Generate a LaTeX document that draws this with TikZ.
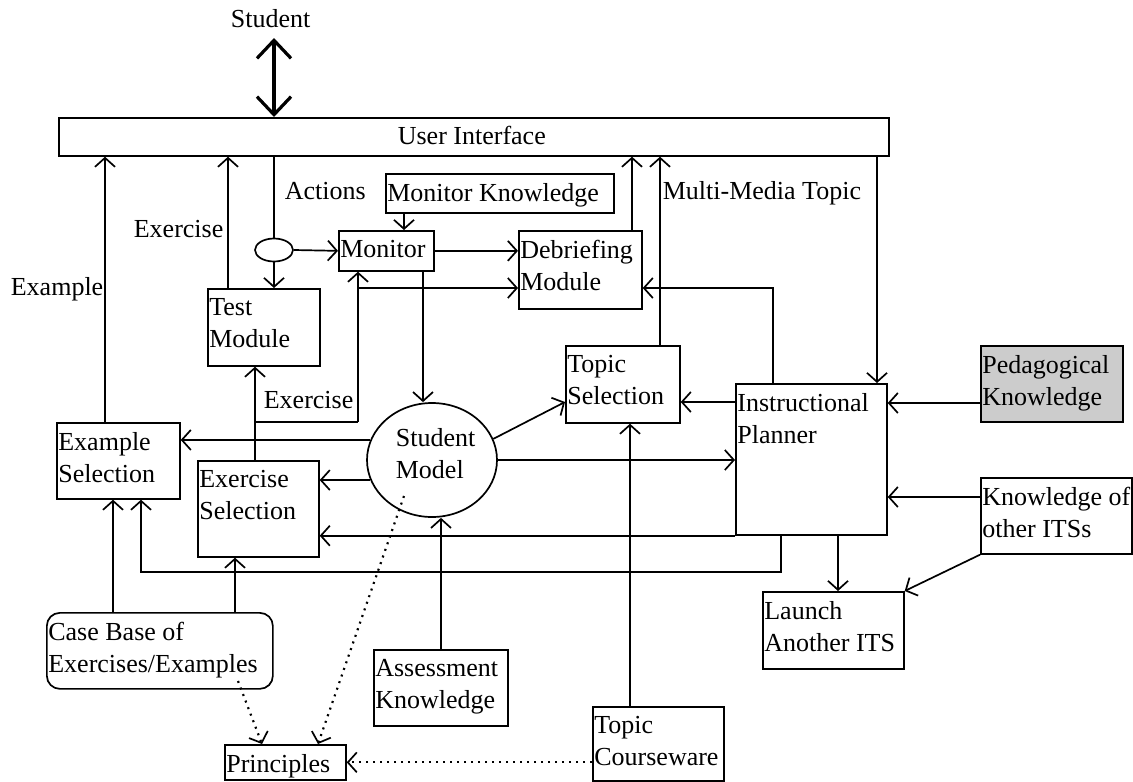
\documentclass[tikz,border=0pt]{standalone}
\usepackage{fontspec}
\setmainfont{Liberation Serif}
\usetikzlibrary{arrows.meta,shapes.geometric}
\begin{document}
\begin{tikzpicture}[x=1pt,y=-1pt,
  line width=1.7pt,
  every node/.style={font=\fontsize{26}{32}\selectfont},
  box/.style={draw, line width=1.7pt, rectangle, inner sep=0pt, anchor=north west},
  tl/.style={anchor=north west, inner sep=0pt, align=left, xshift=1.5pt, yshift=-9.5pt},
  lb/.style={anchor=base west, inner sep=0pt},
  arr/.style={-{Straight Barb[length=9pt,width=20pt]}},
  dotarr/.style={dash pattern=on 2pt off 5pt, line width=2.2pt, -{Straight Barb[length=9pt,width=20pt,line width=1.7pt]}},
  bigarr/.style={line width=3.2pt, {Straight Barb[length=18pt,width=34pt]}-{Straight Barb[length=18pt,width=34pt]}},
]
\useasboundingbox (0,0) rectangle (1133,782);

% ---- boxes ----
\node[box, minimum width=830pt, minimum height=38pt] (ui) at (58,117) {};
\node[box, minimum width=228pt, minimum height=39pt] (monk) at (385,173) {};
\node[box, minimum width=95pt, minimum height=40pt] (mon) at (338,230) {};
\node[box, minimum width=123pt, minimum height=78pt] (deb) at (518,230) {};
\node[box, minimum width=112pt, minimum height=77pt] (test) at (207,288) {};
\node[box, minimum width=123pt, minimum height=76pt] (exs) at (56,422) {};
\node[box, minimum width=121pt, minimum height=96pt] (exe) at (197,460) {};
\node[box, minimum width=114pt, minimum height=77pt] (tsel) at (565,345) {};
\node[box, minimum width=151pt, minimum height=151pt] (ip) at (735,383) {};
\node[box, fill=black!20, minimum width=142pt, minimum height=76pt] (ped) at (980,345) {};
\node[box, minimum width=151pt, minimum height=76pt] (koi) at (980,477) {};
\node[box, minimum width=141pt, minimum height=77pt] (lau) at (762,591) {};
\node[box, rounded corners=13pt, minimum width=226pt, minimum height=76pt] (cb) at (46,612) {};
\node[box, minimum width=121pt, minimum height=35pt] (princ) at (224,744) {};
\node[box, minimum width=134pt, minimum height=76pt] (ak) at (373,649) {};
\node[box, minimum width=131pt, minimum height=74pt] (tc) at (592,706) {};
\node[draw, ellipse, inner sep=0pt, minimum width=130pt, minimum height=114pt] (sm) at (432,460) {};
\node[draw, ellipse, inner sep=0pt, minimum width=38pt, minimum height=23pt] (oval) at (274,250) {};

% ---- box texts ----
\node[tl] (monkt) at (monk.north west) {Monitor Knowledge};
\node[tl] (mont) at (mon.north west) {Monitor};
\node[tl] (debt) at (deb.north west) {Debriefing\\Module};
\node[tl] (testt) at (test.north west) {Test\\Module};
\node[tl] (exst) at (exs.north west) {Example\\Selection};
\node[tl] (exet) at (exe.north west) {Exercise\\Selection};
\node[tl] (tselt) at (tsel.north west) {Topic\\Selection};
\node[tl] (ipt) at (ip.north west) {Instructional\\Planner};
\node[tl] (pedt) at (ped.north west) {Pedagogical\\Knowledge};
\node[tl] (koit) at (koi.north west) {Knowledge of\\other ITSs};
\node[tl] (laut) at (lau.north west) {Launch\\Another ITS};
\node[tl] (cbt) at (cb.north west) {Case Base of\\Exercises/Examples};
\node[tl] (princt) at (princ.north west) {Principles};
\node[tl] (akt) at (ak.north west) {Assessment\\Knowledge};
\node[tl] (tct) at (tc.north west) {Topic\\Courseware};
\node[anchor=north west, inner sep=0pt, align=left] (smt) at (395,428) {Student\\Model};

% ---- free labels ----
\node[lb] (stud) at (230,27) {Student};
\node[lb] (uit) at (397,144) {User Interface};
\node[lb] (lact) at (284,199) {Actions};
\node[lb] (lmm) at (662,199) {Multi-Media Topic};
\node[lb] (lex1) at (133,237) {Exercise};
\node[lb] (lexa) at (10,295) {Example};
\node[lb] (lex2) at (263,408) {Exercise};

% ---- helper coordinates ----
\coordinate (stb) at (274,38);
\coordinate (xEx) at (105,0);
\coordinate (xEr) at (228,0);
\coordinate (xMk) at (404,0);
\coordinate (xDb) at (632,0);
\coordinate (xMm) at (660,0);
\coordinate (xIp) at (877,0);
\coordinate (xMs) at (423,0);
\coordinate (xEs) at (255,0);
\coordinate (br) at (358,422);
\coordinate (xTc) at (630,0);
\coordinate (ipd) at (773,288);
\coordinate (tsy) at (0,402);
\coordinate (yPd) at (0,403);
\coordinate (yKo) at (0,497);
\coordinate (xLa) at (838,0);
\coordinate (xIe) at (781,0);
\coordinate (ipe) at (141,572);
\coordinate (xCa) at (113,0);
\coordinate (xCb) at (235,0);
\coordinate (xAk) at (441,0);
\coordinate (cbd) at (238,681);
\coordinate (xCp) at (262,0);
\coordinate (smd) at (404,496);
\coordinate (xSp) at (318,0);

% ---- connectors ----
\draw[bigarr] (stb) -- (ui.north -| stb);
\draw[arr] (exs.north -| xEx) -- (ui.south -| xEx);
\draw[arr] (test.north -| xEr) -- (ui.south -| xEr);
\draw (ui.south -| oval) -- (oval.north);
\draw[arr] (oval.south) -- (test.north -| oval);
\draw[arr] (oval.east) -- (mon.west);
\draw[arr] (monk.south -| xMk) -- (mon.north -| xMk);
\draw[arr] (mon.east) -- (deb.west |- mon.east);
\draw[arr] (deb.north -| xDb) -- (ui.south -| xDb);
\draw[arr] (tsel.north -| xMm) -- (ui.south -| xMm);
\draw[arr] (ui.south -| xIp) -- (ip.north -| xIp);
\draw[arr] (mon.south -| xMs) -- (sm.north -| xMs);
\draw[arr] (exe.north -| xEs) -- (test.south -| xEs);
\draw (xEs |- br) -- (br);
\draw[arr] (br) -- (mon.south -| br);
\draw[arr] (br |- test.north) -- (deb.west |- test.north);
\draw[arr] (sm.162) -- (exs.east |- sm.162);
\draw[arr] (sm.198) -- (exe.east |- sm.198);
\draw[arr] (sm.19) -- (tsel.west |- tsy);
\draw[arr] (sm.east) -- (ip.west |- sm.east);
\draw[arr] (ip.west |- tsy) -- (tsel.east |- tsy);
\draw[arr] (tc.north -| xTc) -- (tsel.south -| xTc);
\draw[arr] (ip.north -| ipd) -- (ipd) -- (deb.east |- ipd);
\draw[arr] (ped.west |- yPd) -- (ip.east |- yPd);
\draw[arr] (koi.west |- yKo) -- (ip.east |- yKo);
\draw[arr] (koi.south west) -- (lau.north east);
\draw[arr] (ip.south -| xLa) -- (lau.north -| xLa);
\draw[arr] (ip.south west) -- (exe.east |- ip.south west);
\draw[arr] (ip.south -| xIe) |- (ipe) -- (exs.south -| ipe);
\draw[arr] (cb.north -| xCa) -- (exs.south -| xCa);
\draw[arr] (cb.north -| xCb) -- (exe.south -| xCb);
\draw[arr] (ak.north -| xAk) -- (sm.south -| xAk);
\draw[dotarr] (cbd) -- (princ.north -| xCp);
\draw[dotarr] (smd) -- (princ.north -| xSp);
\draw[dotarr] (tc.west |- princ.east) -- (princ.east);
\end{tikzpicture}
\end{document}
